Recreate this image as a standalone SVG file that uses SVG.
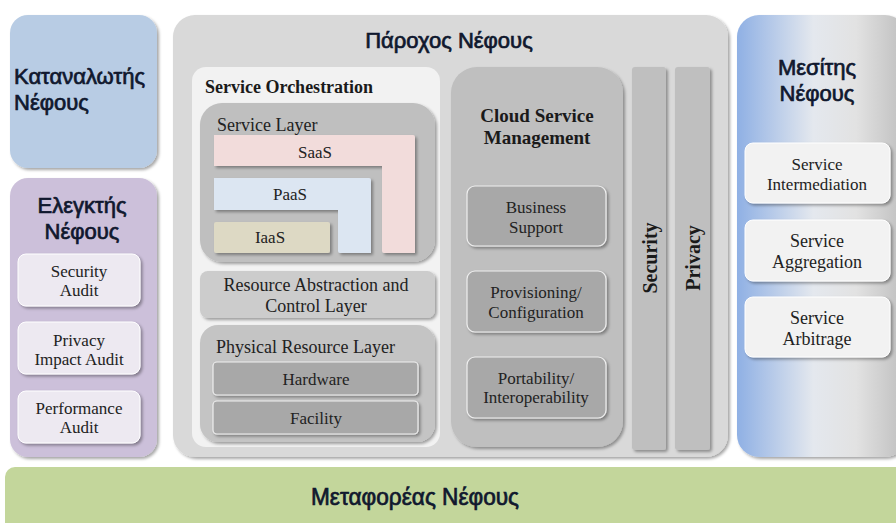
<svg xmlns="http://www.w3.org/2000/svg" width="896" height="523" viewBox="0 0 896 523">
  <defs>
    <filter id="shadow" x="-10%" y="-10%" width="130%" height="130%">
      <feDropShadow dx="2" dy="2" stdDeviation="1.6" flood-color="#000" flood-opacity="0.35"/>
    </filter>
    <linearGradient id="brokerFill" x1="0" y1="0" x2="1" y2="0">
      <stop offset="0" stop-color="#8fb0e4"/>
      <stop offset="0.45" stop-color="#e4e8ee"/>
      <stop offset="0.7" stop-color="#e2e2e2"/>
      <stop offset="1" stop-color="#bdbdbd"/>
    </linearGradient>
    <style>
      .greek { font-family: "Liberation Sans", "DejaVu Sans", sans-serif; font-size: 22px; fill: #10182e; stroke: #10182e; stroke-width: 0.7; }
      .serif { font-family: "Liberation Serif", "DejaVu Serif", serif; font-size: 17px; fill: #222222; }
      .lg { font-size: 18px; }
      .bold { font-weight: bold; fill: #1a1a1a; }
      .mid { text-anchor: middle; }
      .sub { fill: #ede9f1; stroke: #ffffff; stroke-width: 1; }
      .grey { fill: #a8a8a8; stroke: #efefef; stroke-width: 1.2; }
      .light { fill: #f2f2f2; stroke: #ffffff; stroke-width: 1; }
    </style>
  </defs>

  <rect width="896" height="523" fill="#ffffff"/>

  <!-- Cloud Consumer -->
  <g id="consumer">
    <rect x="10" y="15" width="147" height="153" rx="18" fill="#b8cce4" filter="url(#shadow)"/>
    <text class="greek" x="14" y="84">Καταναλωτής</text>
    <text class="greek" x="14" y="110">Νέφους</text>
  </g>

  <!-- Cloud Auditor -->
  <g id="auditor">
    <rect x="10" y="178" width="147" height="279" rx="18" fill="#ccc0da" filter="url(#shadow)"/>
    <text class="greek mid" x="82" y="213">Ελεγκτής</text>
    <text class="greek mid" x="82" y="239">Νέφους</text>
    <g id="security-audit">
      <rect class="sub" x="18" y="254" width="122" height="52" rx="8" filter="url(#shadow)"/>
      <text class="serif mid" x="79" y="277">Security</text>
      <text class="serif mid" x="79" y="296">Audit</text>
    </g>
    <g id="privacy-audit">
      <rect class="sub" x="18" y="322" width="122" height="52" rx="8" filter="url(#shadow)"/>
      <text class="serif mid" x="79" y="346">Privacy</text>
      <text class="serif mid" x="79" y="365">Impact Audit</text>
    </g>
    <g id="performance-audit">
      <rect class="sub" x="18" y="391" width="122" height="52" rx="8" filter="url(#shadow)"/>
      <text class="serif mid" x="79" y="414">Performance</text>
      <text class="serif mid" x="79" y="433">Audit</text>
    </g>
  </g>

  <!-- Cloud Provider -->
  <g id="provider">
    <rect x="173" y="15" width="555" height="442" rx="22" fill="#d9d9d9" filter="url(#shadow)"/>
    <text class="greek mid" x="449" y="48">Πάροχος Νέφους</text>

    <g id="service-orchestration">
      <rect x="192" y="67" width="248" height="380" rx="14" fill="#f2f2f2"/>
      <text class="serif bold" x="205" y="93" style="font-size:18px">Service Orchestration</text>

      <g id="service-layer">
        <rect x="200" y="103" width="235" height="159" rx="22" fill="#bfbfbf" filter="url(#shadow)"/>
        <text class="serif lg" x="217" y="131">Service Layer</text>
        <path d="M214 135 H413 a2 2 0 0 1 2 2 V253 H384 a2 2 0 0 1 -2 -2 V166 H214 Z" fill="#f2dcdb" filter="url(#shadow)"/>
        <text class="serif mid" x="315" y="158">SaaS</text>
        <path d="M214 178 H369 a2 2 0 0 1 2 2 V253 H340 a2 2 0 0 1 -2 -2 V210 H214 Z" fill="#dce6f2" filter="url(#shadow)"/>
        <text class="serif mid" x="290" y="200">PaaS</text>
        <rect x="214" y="222" width="116" height="31" rx="2" fill="#ddd9c4" filter="url(#shadow)"/>
        <text class="serif mid" x="270" y="243">IaaS</text>
      </g>

      <g id="resource-abstraction">
        <rect x="200" y="271" width="235" height="47" rx="8" fill="#cccccc" filter="url(#shadow)"/>
        <text class="serif lg mid" x="316" y="291">Resource Abstraction and</text>
        <text class="serif lg mid" x="316" y="312">Control Layer</text>
      </g>

      <g id="physical-resource">
        <rect x="200" y="325" width="235" height="117" rx="18" fill="#c4c4c4" filter="url(#shadow)"/>
        <text class="serif lg" x="216" y="353">Physical Resource Layer</text>
        <rect class="grey" x="213" y="362" width="205" height="33" rx="4" filter="url(#shadow)"/>
        <text class="serif mid" x="316" y="385">Hardware</text>
        <rect class="grey" x="213" y="401" width="205" height="33" rx="4" filter="url(#shadow)"/>
        <text class="serif mid" x="316" y="424">Facility</text>
      </g>
    </g>

    <g id="cloud-service-management">
      <rect x="451" y="67" width="172" height="380" rx="26" fill="#bfbfbf" filter="url(#shadow)"/>
      <text class="serif bold mid" x="537" y="122" style="font-size:19px">Cloud Service</text>
      <text class="serif bold mid" x="537" y="144" style="font-size:19px">Management</text>
      <g id="business-support">
        <rect class="grey" x="467" y="186" width="139" height="60" rx="8" filter="url(#shadow)"/>
        <text class="serif mid" x="536" y="213">Business</text>
        <text class="serif mid" x="536" y="233">Support</text>
      </g>
      <g id="provisioning">
        <rect class="grey" x="467" y="271" width="139" height="61" rx="8" filter="url(#shadow)"/>
        <text class="serif mid" x="536" y="298">Provisioning/</text>
        <text class="serif mid" x="536" y="318">Configuration</text>
      </g>
      <g id="portability">
        <rect class="grey" x="467" y="357" width="139" height="61" rx="8" filter="url(#shadow)"/>
        <text class="serif mid" x="536" y="384">Portability/</text>
        <text class="serif mid" x="536" y="403">Interoperability</text>
      </g>
    </g>

    <g id="security">
      <rect x="632" y="67" width="34" height="383" rx="3" fill="#bfbfbf" filter="url(#shadow)"/>
      <text class="serif bold mid" transform="translate(657 258) rotate(-90)" style="font-size:20px">Security</text>
    </g>
    <g id="privacy">
      <rect x="675" y="67" width="35" height="383" rx="3" fill="#bfbfbf" filter="url(#shadow)"/>
      <text class="serif bold mid" transform="translate(700 258) rotate(-90)" style="font-size:20px">Privacy</text>
    </g>
  </g>

  <!-- Cloud Broker -->
  <g id="broker">
    <rect x="737" y="15" width="170" height="442" rx="22" fill="url(#brokerFill)" filter="url(#shadow)"/>
    <text class="greek mid" x="817" y="75">Μεσίτης</text>
    <text class="greek mid" x="817" y="101">Νέφους</text>
    <g id="service-intermediation">
      <rect class="light" x="745" y="143" width="145" height="60" rx="8" filter="url(#shadow)"/>
      <text class="serif mid" x="817" y="170">Service</text>
      <text class="serif mid" x="817" y="190">Intermediation</text>
    </g>
    <g id="service-aggregation">
      <rect class="light" x="745" y="220" width="145" height="61" rx="8" filter="url(#shadow)"/>
      <text class="serif lg mid" x="817" y="247">Service</text>
      <text class="serif lg mid" x="817" y="268">Aggregation</text>
    </g>
    <g id="service-arbitrage">
      <rect class="light" x="745" y="297" width="145" height="60" rx="8" filter="url(#shadow)"/>
      <text class="serif lg mid" x="817" y="324">Service</text>
      <text class="serif lg mid" x="817" y="345">Arbitrage</text>
    </g>
  </g>

  <!-- Cloud Carrier -->
  <g id="carrier">
    <rect x="5" y="467" width="900" height="70" rx="10" fill="#c3d69b"/>
    <text class="greek mid" x="415" y="505" style="font-size:23px" textLength="208" lengthAdjust="spacingAndGlyphs">Μεταφορέας Νέφους</text>
  </g>
</svg>
